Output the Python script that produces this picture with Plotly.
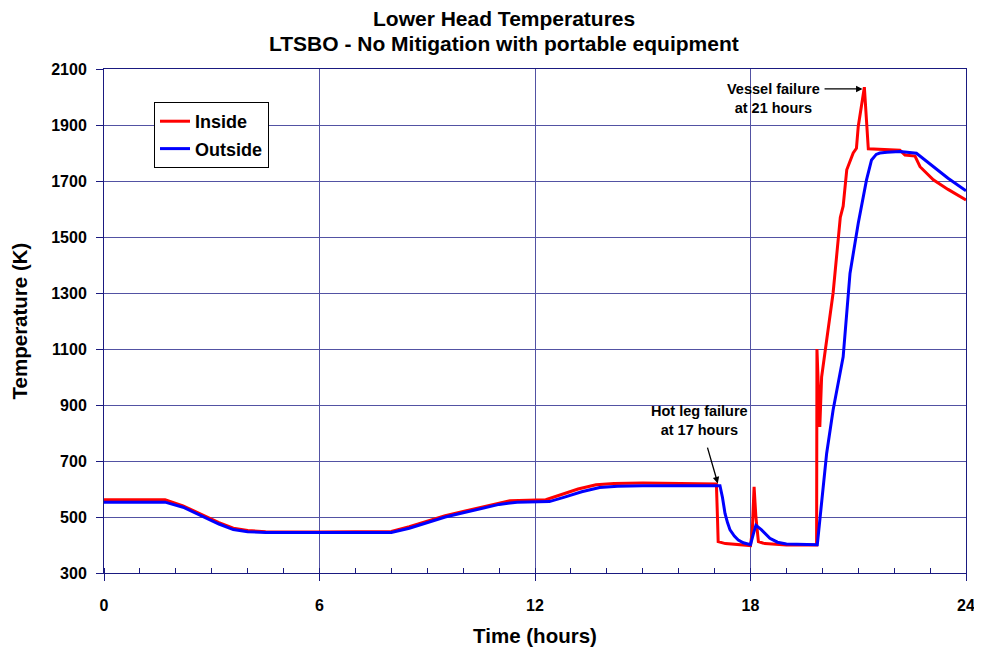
import plotly.graph_objects as go

# Inside (red) lower head temperature
t_inside = [0, 1.7, 2.2, 2.7, 3.2, 3.6, 4.0, 4.5, 6, 8.0, 8.5, 9.0, 9.5, 10.0, 10.5, 11.0, 11.3,
            12.3, 12.7, 13.2, 13.7, 14.2, 15, 16, 17.05, 17.08, 17.1, 17.3, 17.6, 18.0, 18.05,
            18.1, 18.15, 18.22, 18.4, 18.7, 19.0, 19.84, 19.85, 19.93, 19.98, 20.3, 20.5, 20.58,
            20.68, 20.86, 20.95, 21.0, 21.09, 21.17, 21.28, 21.6, 22.0, 22.16, 22.3, 22.58,
            22.72, 23.09, 23.5, 24.0]
temp_inside = [562, 562, 540, 510, 480, 460, 452, 447, 446, 448, 465, 485, 505, 520, 535, 550, 558,
               562, 580, 600, 615, 620, 621, 620, 618, 500, 412, 405, 402, 398, 450,
               608, 500, 412, 405, 402, 400, 400, 1100, 822, 1000, 1300, 1570, 1610,
               1740, 1800, 1817, 1895, 1977, 2035, 1815, 1813, 1811, 1810, 1793, 1789,
               1751, 1704, 1670, 1632]

# Outside (blue) lower head temperature
t_outside = [0, 1.7, 2.2, 2.7, 3.2, 3.6, 4.0, 4.5, 6, 8.0, 8.5, 9.0, 9.5, 10, 10.5, 11, 11.5,
             12.4, 12.8, 13.3, 13.8, 14.3, 15, 16, 17.15, 17.22, 17.29, 17.36, 17.43, 17.55,
             17.66, 17.8, 18.0, 18.08, 18.15, 18.3, 18.54, 18.75, 19.0, 19.86, 19.95, 20.12,
             20.3, 20.45, 20.58, 20.77, 21.0, 21.23, 21.37, 21.5, 21.6, 21.8, 22.16, 22.62,
             23.09, 23.5, 24]
temp_outside = [553, 553, 535, 505, 475, 455, 447, 445, 444, 445, 460, 480, 500, 515, 530, 545, 553,
                555, 570, 590, 605, 610, 612, 612, 612, 570, 513, 480, 454, 432,
                418, 408, 401, 440, 470, 455, 424, 410, 404, 401, 520, 727,
                882, 980, 1072, 1370, 1549, 1704, 1775, 1795, 1800, 1803, 1805, 1799,
                1751, 1710, 1665]

x_ticks = [0, 6, 12, 18, 24]
y_ticks = [300, 500, 700, 900, 1100, 1300, 1500, 1700, 1900, 2100]

FONT = "Liberation Sans, Arial, sans-serif"
GRID = "#5252A3"
AXIS = "#1a1a80"

fig = go.Figure()
fig.add_trace(go.Scatter(x=t_inside, y=temp_inside, mode="lines", name="<b>Inside</b>",
                         legendgroup="in", line=dict(color="#FF0000", width=3)))
fig.add_trace(go.Scatter(x=t_outside, y=temp_outside, mode="lines", name="<b>Outside</b>",
                         legendgroup="out", line=dict(color="#0000FF", width=3)))

fig.update_layout(
    width=974, height=648,
    margin=dict(l=96, r=16, t=61, b=83, autoexpand=False),
    paper_bgcolor="white", plot_bgcolor="white",
    font=dict(family=FONT, color="black"),
    showlegend=True,
    legend=dict(x=0.058, y=0.9345, xanchor="left", yanchor="top",
                bgcolor="white", bordercolor="black", borderwidth=1,
                font=dict(size=18, family=FONT, color="black"),
                tracegroupgap=1),
    xaxis=dict(range=[0, 24], tickvals=x_ticks, ticktext=[f"<b>{v}</b>" for v in x_ticks],
               automargin=False,
               showgrid=True, gridcolor=GRID, gridwidth=1,
               showline=True, linecolor=AXIS, linewidth=1, mirror=True,
               ticks="outside", ticklen=7, tickcolor=AXIS, ticklabelstandoff=11,
               minor=dict(dtick=1, ticks="inside", ticklen=5, tickcolor=AXIS, showgrid=False),
               tickfont=dict(size=16, family=FONT, color="black"),
               title=dict(text="<b>Time (hours)</b>", font=dict(size=20.5, family=FONT), standoff=15),
               zeroline=False),
    yaxis=dict(range=[300, 2100], tickvals=y_ticks, ticktext=[f"<b>{v}</b>" for v in y_ticks],
               automargin=False,
               showgrid=True, gridcolor=GRID, gridwidth=1,
               showline=True, linecolor=AXIS, linewidth=1, mirror=True,
               ticks="outside", ticklen=7, tickcolor=AXIS, ticklabelstandoff=6,
               tickfont=dict(size=16, family=FONT, color="black"),
               title=dict(text="<b>Temperature (K)</b>", font=dict(size=20.5, family=FONT), standoff=23),
               zeroline=False),
)

# Title lines
fig.add_annotation(xref="paper", yref="paper", x=0.464, y=1, yanchor="middle", yshift=51,
                   text="<b>Lower Head Temperatures</b>", showarrow=False,
                   font=dict(size=21, family=FONT, color="black"))
fig.add_annotation(xref="paper", yref="paper", x=0.464, y=1, yanchor="middle", yshift=26,
                   text="<b>LTSBO - No Mitigation with portable equipment</b>", showarrow=False,
                   font=dict(size=21, family=FONT, color="black"))

# Event annotations
fig.add_annotation(x=18.63, y=1996, text="<b>Vessel failure<br>at 21 hours</b>", showarrow=False,
                   font=dict(size=14.5, family=FONT, color="black"), align="center")
fig.add_annotation(x=21.12, y=2029, ax=20.02, ay=2029, axref="x", ayref="y", xref="x", yref="y",
                   text="", showarrow=True, arrowhead=2, arrowsize=1, arrowwidth=1.3, arrowcolor="black")
fig.add_annotation(x=16.59, y=846, text="<b>Hot leg failure<br>at 17 hours</b>", showarrow=False,
                   font=dict(size=14.5, family=FONT, color="black"), align="center")
fig.add_annotation(x=17.09, y=620, ax=16.79, ay=753, axref="x", ayref="y", xref="x", yref="y",
                   text="", showarrow=True, arrowhead=2, arrowsize=1, arrowwidth=1.3, arrowcolor="black")

fig.write_html("out.html")
